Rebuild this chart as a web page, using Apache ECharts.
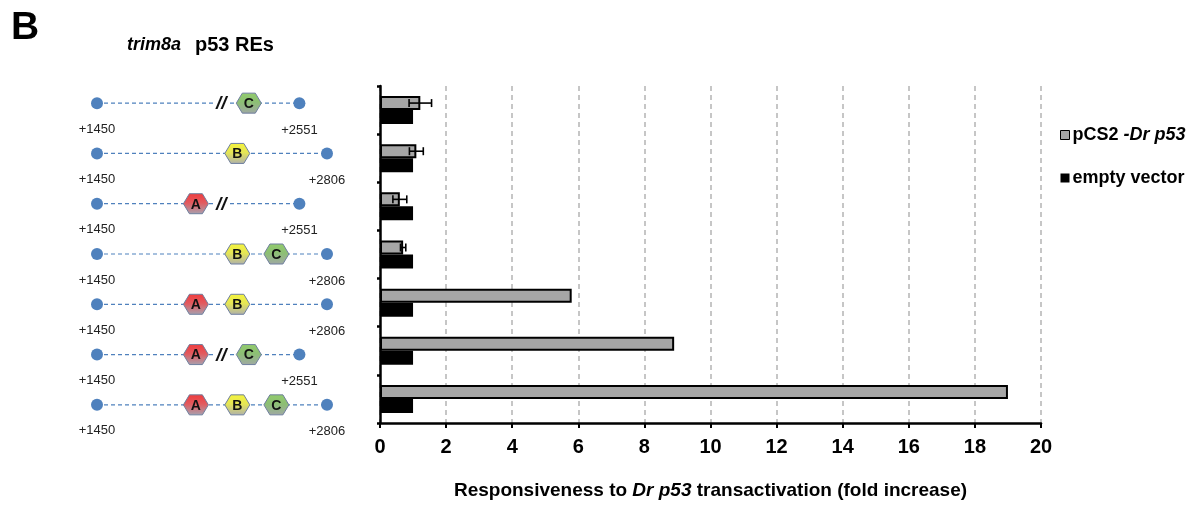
<!DOCTYPE html>
<html>
<head>
<meta charset="utf-8">
<title>trim8a p53 REs</title>
<script src="https://cdn.jsdelivr.net/npm/echarts@6/dist/echarts.min.js"></script>
<style>
  html, body { margin: 0; padding: 0; background: #fff; }
  #chart { width: 1196px; height: 505px; }
</style>
</head>
<body>
<div id="chart"></div>
<script>
// Reporter constructs (one per row, top to bottom)
const constructs = ['C', 'B', 'A', 'BC', 'AB', 'AC', 'ABC'];

// Fold increase of luciferase activity
const p53Values = [1.22, 1.1, 0.6, 0.7, 5.8, 8.9, 19.0];
const p53Errors = [0.34, 0.21, 0.21, 0.08, 0, 0, 0];
const emptyValues = [1, 1, 1, 1, 1, 1, 1];

// x-axis ticks
const xTicks = [0, 2, 4, 6, 8, 10, 12, 14, 16, 18, 20];

// Schematic of each construct (relative units along the promoter fragment)
const siteLayout = [
  [['C', 66]],
  [['B', 61]],
  [['A', 43]],
  [['B', 61], ['C', 78]],
  [['A', 43], ['B', 61]],
  [['A', 43], ['C', 66]],
  [['A', 43], ['B', 61], ['C', 78]]
];
const breakMarks = [54, null, 54, null, null, 54, null];
const fragmentEnd = [88, 100, 88, 100, 100, 88, 100];
const startLabels = ['+1450', '+1450', '+1450', '+1450', '+1450', '+1450', '+1450'];
const endLabels = ['+2551', '+2806', '+2551', '+2806', '+2806', '+2551', '+2806'];

const FONT = "'Liberation Sans', Arial, Helvetica, sans-serif";
const NARROW = "'Liberation Sans Narrow', 'Liberation Sans', Arial, sans-serif";

const siteColors = {
  A: ['#f03a3c', '#e25a5e', '#a6a2b0'],
  B: ['#f4f43c', '#e6e654', '#aeb0ac'],
  C: ['#92cc6c', '#8cbf74', '#a0a8a4']
};

function hexagon(cx, cy, letter) {
  const w = 25, h = 20, s = 6;
  const c = siteColors[letter];
  return [{
    type: 'polygon',
    shape: { points: [
      [cx - w / 2, cy], [cx - w / 2 + s, cy - h / 2], [cx + w / 2 - s, cy - h / 2],
      [cx + w / 2, cy], [cx + w / 2 - s, cy + h / 2], [cx - w / 2 + s, cy + h / 2]
    ] },
    style: {
      fill: new echarts.graphic.LinearGradient(0, 0, 0, 1, [
        { offset: 0, color: c[0] }, { offset: 0.45, color: c[1] }, { offset: 1, color: c[2] }
      ]),
      stroke: '#6f7f9e', lineWidth: 1
    },
    z2: 5
  }, {
    type: 'text',
    style: {
      text: letter, x: cx, y: cy + 1, align: 'center', verticalAlign: 'middle',
      font: 'bold 14px ' + FONT, fill: '#111'
    },
    z2: 6
  }];
}

function renderConstruct(params, api) {
  const i = params.dataIndex;
  const start = api.coord([0, i]);
  const end = api.coord([fragmentEnd[i], i]);
  const y = start[1];
  const children = [];
  children.push({
    type: 'line',
    shape: { x1: start[0], y1: y, x2: end[0], y2: y },
    style: { stroke: '#4f81bd', lineWidth: 1.2, lineDash: [4, 3] }
  });
  children.push({ type: 'circle', shape: { cx: start[0], cy: y, r: 6 }, style: { fill: '#4f81bd' }, z2: 3 });
  children.push({ type: 'circle', shape: { cx: end[0], cy: y, r: 6 }, style: { fill: '#4f81bd' }, z2: 3 });
  siteLayout[i].forEach(function (s) {
    const p = api.coord([s[1], i]);
    hexagon(p[0], y, s[0]).forEach(function (el) { children.push(el); });
  });
  if (breakMarks[i] !== null) {
    const b = api.coord([breakMarks[i], i]);
    children.push({ type: 'rect', shape: { x: b[0] - 7, y: y - 4, width: 14, height: 8 }, style: { fill: '#fff' }, z2: 4 });
    children.push({
      type: 'text',
      style: { text: '//', x: b[0], y: y + 1, align: 'center', verticalAlign: 'middle',
        font: 'italic bold 19px ' + FONT, fill: '#111' },
      z2: 5
    });
  }
  children.push({
    type: 'text',
    style: { text: startLabels[i], x: start[0], y: y + 26, align: 'center', verticalAlign: 'middle',
      font: '13px ' + FONT, fill: '#222' }
  });
  children.push({
    type: 'text',
    style: { text: endLabels[i], x: end[0], y: y + 27, align: 'center', verticalAlign: 'middle',
      font: '13px ' + FONT, fill: '#222' }
  });
  return { type: 'group', children: children };
}

function renderErrorBar(params, api) {
  const i = api.value(1);
  const v = api.value(0);
  const e = api.value(2);
  if (!e) return null;
  const c = api.coord([v, i]);
  const lo = api.coord([v - e, i]);
  const hi = api.coord([v + e, i]);
  const y = c[1] - 7;
  const cap = 4;
  const st = { stroke: '#000', lineWidth: 1.6 };
  return {
    type: 'group',
    children: [
      { type: 'line', shape: { x1: lo[0], y1: y, x2: hi[0], y2: y }, style: st },
      { type: 'line', shape: { x1: lo[0], y1: y - cap, x2: lo[0], y2: y + cap }, style: st },
      { type: 'line', shape: { x1: hi[0], y1: y - cap, x2: hi[0], y2: y + cap }, style: st }
    ]
  };
}

const chart = echarts.init(document.getElementById('chart'), null, { renderer: 'canvas' });

chart.setOption({
  animation: false,
  backgroundColor: '#fff',
  textStyle: { fontFamily: FONT },
  graphic: [
    { type: 'text', left: 11, top: 9, style: { text: 'B', font: 'bold 39px ' + FONT, fill: '#000' } },
    {
      type: 'text', left: 127, top: 35,
      style: {
        text: '{i|trim8a}{s|}{b|p53 REs}',
        rich: {
          i: { fontSize: 18, fontWeight: 'bold', fontStyle: 'italic', fontFamily: FONT, fill: '#000' },
          s: { width: 14 },
          b: { fontSize: 20, fontWeight: 'bold', fontFamily: FONT, fill: '#000' }
        }
      }
    }
  ],
  legend: {
    left: 1055, top: 121, orient: 'vertical',
    itemWidth: 9, itemHeight: 9, itemGap: 25,
    icon: 'rect',
    data: [
      { name: 'pCS2-Dr p53', itemStyle: { borderWidth: 1, borderColor: '#000', color: '#a6a6a6' } },
      { name: 'empty vector', itemStyle: { color: '#000' } }
    ],
    formatter: function (name) {
      return name === 'pCS2-Dr p53' ? '{a|pCS2 }{i|-Dr p53}' : '{a|empty vector}';
    },
    textStyle: {
      padding: [0, 0, 0, -2],
      rich: {
        a: { fontSize: 18, fontWeight: 'bold', fontFamily: FONT, color: '#000', lineHeight: 20 },
        i: { fontSize: 18, fontWeight: 'bold', fontStyle: 'italic', fontFamily: FONT, color: '#000', lineHeight: 20 }
      }
    }
  },
  grid: [
    { left: 380, right: 155, top: 86, bottom: 81 },
    { left: 97, right: 869, top: 78, bottom: 75 }
  ],
  xAxis: [{
    type: 'value', gridIndex: 0, min: 0, max: 20, interval: 2,
    axisLine: { show: true, lineStyle: { color: '#000', width: 2.5 } },
    axisTick: { show: true, length: 5, lineStyle: { color: '#000', width: 2 } },
    axisLabel: {
      margin: 14, color: '#000', fontSize: 20, fontWeight: 'bold', fontFamily: NARROW,
      formatter: function (v) { return xTicks.indexOf(v) >= 0 ? String(v) : ''; }
    },
    splitLine: { show: true, lineStyle: { color: '#b4b4b4', width: 1.5, type: [5, 4] } },
    name: '{a|Responsiveness to }{i|Dr p53}{a| transactivation (fold increase)}',
    nameLocation: 'middle', nameGap: 58,
    nameTextStyle: {
      rich: {
        a: { fontSize: 19, fontWeight: 'bold', fontFamily: FONT, color: '#000' },
        i: { fontSize: 19, fontWeight: 'bold', fontStyle: 'italic', fontFamily: FONT, color: '#000' }
      }
    }
  }, {
    type: 'value', gridIndex: 1, min: 0, max: 100, show: false
  }],
  yAxis: [{
    type: 'category', gridIndex: 0, inverse: true, data: constructs,
    axisLine: { show: true, lineStyle: { color: '#000', width: 2.5 } },
    axisTick: { show: true, length: 3, lineStyle: { color: '#000', width: 2.5 } },
    axisLabel: { show: false },
    splitLine: { show: false }
  }, {
    type: 'category', gridIndex: 1, inverse: true, data: constructs, show: false
  }],
  series: [{
    name: 'pCS2-Dr p53', type: 'bar', xAxisIndex: 0, yAxisIndex: 0,
    data: p53Values, barWidth: 14, barGap: '0%',
    itemStyle: { color: '#a6a6a6', borderColor: '#000', borderWidth: 2 },
    z: 3
  }, {
    name: 'empty vector', type: 'bar', xAxisIndex: 0, yAxisIndex: 0,
    data: emptyValues, barWidth: 14,
    itemStyle: { color: '#000' },
    z: 2
  }, {
    type: 'custom', name: 'error', xAxisIndex: 0, yAxisIndex: 0,
    data: p53Values.map(function (v, i) { return [v, i, p53Errors[i]]; }),
    renderItem: renderErrorBar, z: 5, silent: true
  }, {
    type: 'custom', name: 'constructs', xAxisIndex: 1, yAxisIndex: 1,
    data: constructs.map(function (c, i) { return [0, i]; }),
    renderItem: renderConstruct, silent: true
  }]
});
</script>
</body>
</html>
